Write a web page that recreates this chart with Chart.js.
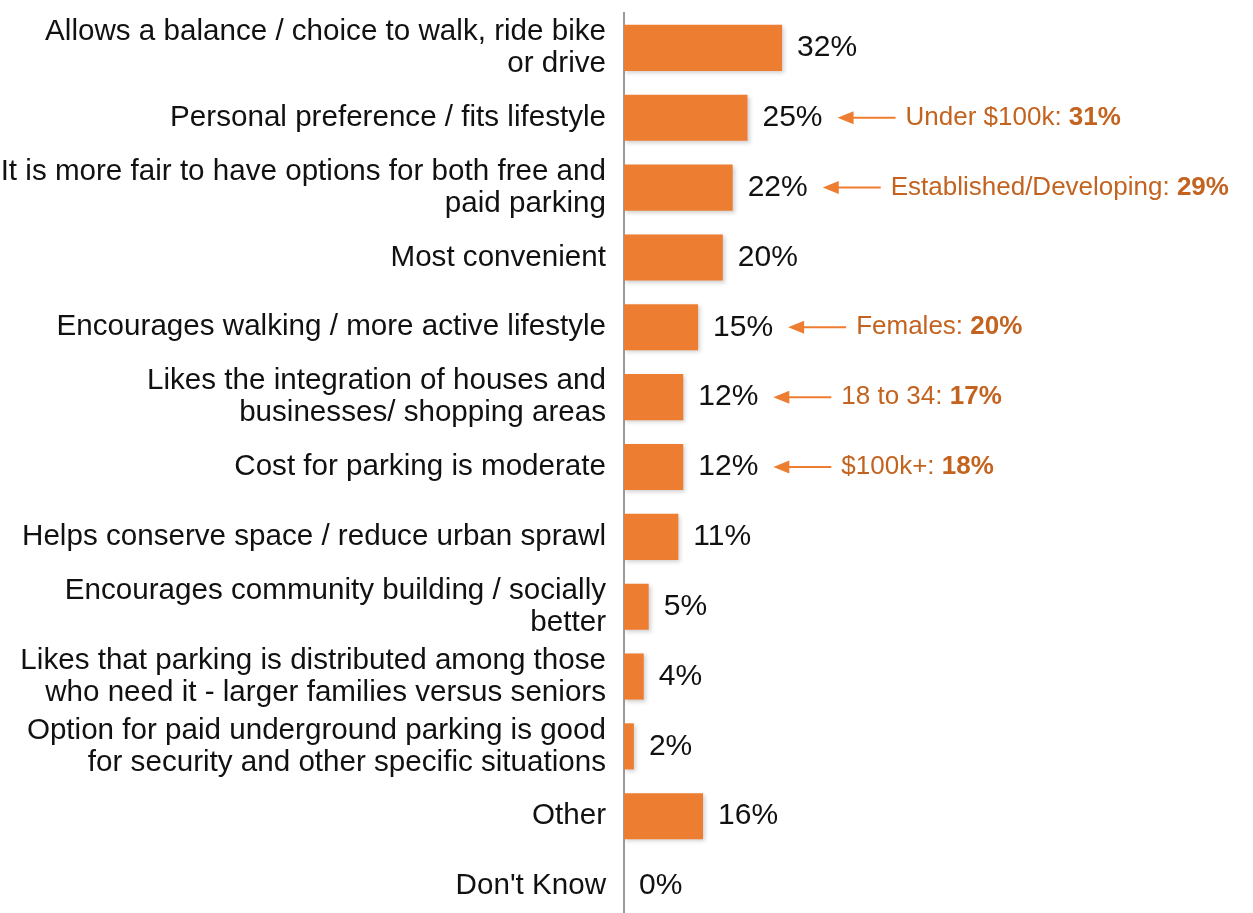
<!DOCTYPE html>
<html>
<head>
<meta charset="utf-8">
<script src="https://cdn.jsdelivr.net/npm/chart.js@4.4.1/dist/chart.umd.min.js"></script>
<style>
  html, body { margin: 0; padding: 0; background: #fff; overflow: hidden; }
  #wrap { position: absolute; left: 0; top: 0; width: 1253px; height: 925px; }
</style>
</head>
<body>
<div id="wrap"><canvas id="myChart" width="1253" height="925"></canvas></div>
<script>
const categories = [
  ["Allows a balance / choice to walk, ride bike", "or drive"],
  "Personal preference / fits lifestyle",
  ["It is more fair to have options for both free and", "paid parking"],
  "Most convenient",
  "Encourages walking / more active lifestyle",
  ["Likes the integration of houses and", "businesses/ shopping areas"],
  "Cost for parking is moderate",
  "Helps conserve space / reduce urban sprawl",
  ["Encourages community building / socially", "better"],
  ["Likes that parking is distributed among those", "who need it - larger families versus seniors"],
  ["Option for paid underground parking is good", "for security and other specific situations"],
  "Other",
  "Don't Know",
];
const values = [32, 25, 22, 20, 15, 12, 12, 11, 5, 4, 2, 16, 0];

// callouts next to some bars
const noteLabels = [null, "Under $100k: ", "Established/Developing: ", null, "Females: ", "18 to 34: ", "$100k+: ", null, null, null, null, null, null];
const noteValues = [null, 31, 29, null, 20, 17, 18, null, null, null, null, null, null];

const barColor = "#ED7D31";
const noteColor = "#C3631F";
const fontFamily = "'Liberation Sans', Arial, sans-serif";

const barShadow = {
  id: "barShadow",
  beforeDatasetDraw(chart) {
    const ctx = chart.ctx;
    ctx.save();
    ctx.shadowColor = "rgba(0,0,0,0.18)";
    ctx.shadowBlur = 4;
    ctx.shadowOffsetX = 2;
    ctx.shadowOffsetY = 2;
  },
  afterDatasetDraw(chart) {
    chart.ctx.restore();
  },
};

const valueLabels = {
  id: "valueLabels",
  afterDatasetsDraw(chart) {
    const ctx = chart.ctx;
    const bars = chart.getDatasetMeta(0).data;
    ctx.save();
    ctx.textBaseline = "middle";
    bars.forEach((bar, i) => {
      const txt = values[i] + "%";
      const x = bar.x + 15;
      const y = bar.y;
      ctx.font = "30px " + fontFamily;
      ctx.fillStyle = "#111";
      ctx.textAlign = "left";
      ctx.fillText(txt, x, y);
      if (noteLabels[i] === null) return;

      // arrow
      const tip = x + ctx.measureText(txt).width + 15;
      const tail = tip + 58;
      ctx.strokeStyle = barColor;
      ctx.fillStyle = barColor;
      ctx.lineWidth = 2;
      ctx.beginPath();
      ctx.moveTo(tip + 10, y);
      ctx.lineTo(tail, y);
      ctx.stroke();
      ctx.beginPath();
      ctx.moveTo(tip, y);
      ctx.lineTo(tip + 16, y - 6.5);
      ctx.lineTo(tip + 16, y + 6.5);
      ctx.closePath();
      ctx.fill();

      // note text
      let tx = tail + 10;
      ctx.fillStyle = noteColor;
      ctx.font = "26px " + fontFamily;
      ctx.fillText(noteLabels[i], tx, y);
      tx += ctx.measureText(noteLabels[i]).width;
      ctx.font = "bold 26px " + fontFamily;
      ctx.fillText(noteValues[i] + "%", tx, y);
    });
    ctx.restore();
  },
};

const config = {
  type: "bar",
  data: {
    labels: categories,
    datasets: [
      {
        data: values,
        backgroundColor: barColor,
        borderWidth: 0,
        barPercentage: 0.66,
        categoryPercentage: 1,
      },
    ],
  },
  options: {
    indexAxis: "y",
    responsive: false,
    animation: false,
    events: [],
    layout: {
      padding: { top: 13, bottom: 4, left: 0, right: 135 },
    },
    scales: {
      x: {
        display: false,
        min: 0,
        max: 100,
      },
      y: {
        afterFit(scale) {
          scale.width = 624;
          scale.paddingTop = 0;
          scale.paddingBottom = 0;
        },
        grid: { display: false, drawTicks: false },
        border: { display: true, color: "#9a9a9a", width: 2 },
        ticks: {
          padding: 18,
          color: "#111",
          font: { family: fontFamily, size: 29.6, lineHeight: 1.08 },
        },
      },
    },
    plugins: {
      legend: { display: false },
      tooltip: { enabled: false },
    },
  },
  plugins: [barShadow, valueLabels],
};

const myChart = new Chart(document.getElementById("myChart"), config);
</script>
</body>
</html>
